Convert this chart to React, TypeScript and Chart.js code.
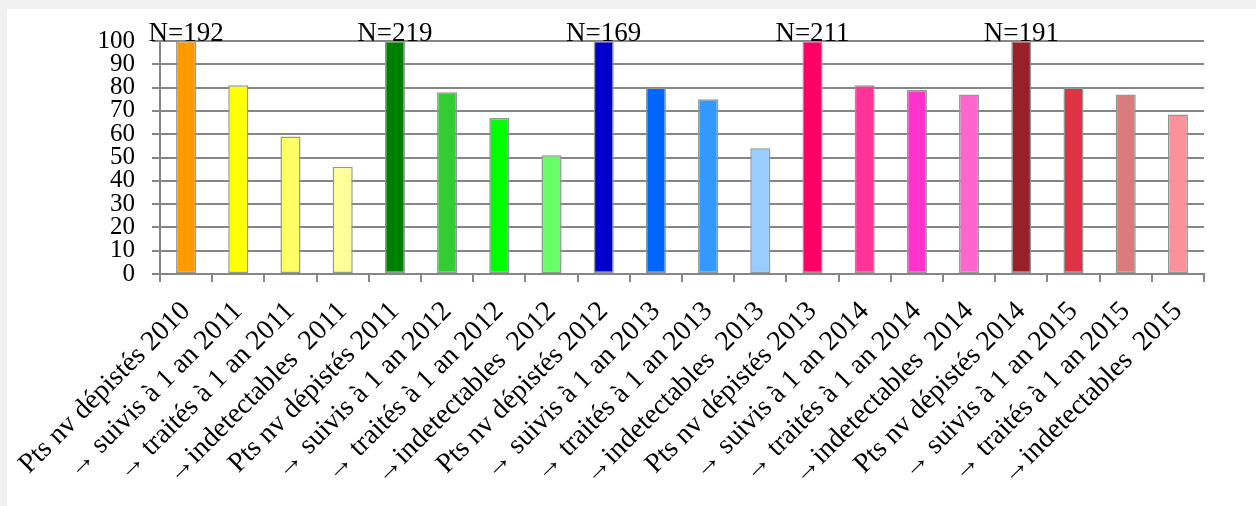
import React, { useEffect, useRef } from "react";
import { Chart, registerables } from "chart.js";

Chart.register(...registerables);

const categories: string[] = [
  "Pts nv dépistés 2010",
  "→ suivis à 1 an 2011",
  "→ traités à 1 an 2011",
  "→indetectables  2011",
  "Pts nv dépistés 2011",
  "→ suivis à 1 an 2012",
  "→ traités à 1 an 2012",
  "→indetectables  2012",
  "Pts nv dépistés 2012",
  "→ suivis à 1 an 2013",
  "→ traités à 1 an 2013",
  "→indetectables  2013",
  "Pts nv dépistés 2013",
  "→ suivis à 1 an 2014",
  "→ traités à 1 an 2014",
  "→indetectables  2014",
  "Pts nv dépistés 2014",
  "→ suivis à 1 an 2015",
  "→ traités à 1 an 2015",
  "→indetectables  2015",
];

const values: number[] = [
  100, 81, 59, 46,
  100, 78, 67, 51,
  100, 80, 75, 54,
  100, 81, 79, 77,
  100, 80, 77, 68.5,
];

const nLabels: (string | null)[] = [
  "N=192", null, null, null,
  "N=219", null, null, null,
  "N=169", null, null, null,
  "N=211", null, null, null,
  "N=191", null, null, null,
];

const barColors: string[] = [
  "#ff9900", "#ffff00", "#ffff66", "#ffff99",
  "#008000", "#33cc33", "#00ff00", "#66ff66",
  "#0000cc", "#0066ff", "#3399ff", "#99ccff",
  "#ff0066", "#ff3399", "#ff33cc", "#ff66cc",
  "#991f28", "#de3344", "#da7b7e", "#f9929a",
];

const yTicks: number[] = [0, 10, 20, 30, 40, 50, 60, 70, 80, 90, 100];

const FONT = "'Liberation Serif', 'Times New Roman', serif";
const W = 1249;
const H = 497;
const GRID = "#868686";

const nLabelPlugin = {
  id: "nLabels",
  afterDraw(chart: any) {
    const ctx = chart.ctx;
    const meta = chart.getDatasetMeta(0);
    ctx.save();
    ctx.font = `27px ${FONT}`;
    ctx.fillStyle = "#000";
    ctx.textAlign = "center";
    ctx.textBaseline = "alphabetic";
    nLabels.forEach((t, i) => {
      if (!t) return;
      const bar = meta.data[i];
      ctx.fillText(t, bar.x, bar.y - 0.5);
    });
    ctx.restore();
  },
};

export default function App() {
  const ref = useRef<HTMLCanvasElement | null>(null);

  useEffect(() => {
    if (!ref.current) return;
    const chart = new Chart(ref.current, {
      type: "bar",
      data: {
        labels: categories,
        datasets: [
          {
            data: values,
            backgroundColor: barColors,
            borderColor: "#8f9a94",
            borderWidth: 1.5,
            borderSkipped: false,
            categoryPercentage: 1,
            barPercentage: 0.385,
          },
        ],
      },
      options: {
        responsive: false,
        animation: false,
        devicePixelRatio: 1,
        layout: { padding: { top: 31, right: 52, left: 0, bottom: 0 } },
        plugins: {
          legend: { display: false },
          tooltip: { enabled: false },
          title: { display: false },
        },
        scales: {
          x: {
            offset: true,
            grid: {
              offset: true,
              drawOnChartArea: false,
              drawTicks: true,
              tickLength: 8,
              color: GRID,
              lineWidth: 2,
            },
            border: { display: true, color: GRID, width: 2 },
            ticks: {
              autoSkip: false,
              minRotation: 45,
              maxRotation: 45,
              padding: 13,
              color: "#000",
              font: { family: FONT, size: 28 },
            },
            afterFit(scale: any) {
              scale.height = H - 265;
            },
          },
          y: {
            min: 0,
            max: 100,
            afterBuildTicks(scale: any) {
              scale.ticks = yTicks.map((v) => ({ value: v }));
            },
            grid: {
              drawTicks: true,
              tickLength: 8,
              color: GRID,
              lineWidth: 2,
            },
            border: { display: true, color: GRID, width: 2 },
            ticks: {
              autoSkip: false,
              padding: 17,
              color: "#000",
              font: { family: FONT, size: 25 },
            },
            afterFit(scale: any) {
              scale.width = 153;
            },
          },
        },
      },
      plugins: [nLabelPlugin],
    });
    return () => chart.destroy();
  }, []);

  return (
    <div
      style={{
        position: "absolute",
        left: 0,
        top: 0,
        width: 1256,
        height: 506,
        background: "#f0f0f0",
        overflow: "hidden",
      }}
    >
      <div
        style={{
          position: "absolute",
          left: 7,
          top: 9,
          width: W,
          height: H,
          background: "#ffffff",
        }}
      >
        <canvas ref={ref} width={W} height={H} style={{ width: W, height: H, display: "block" }} />
      </div>
    </div>
  );
}
